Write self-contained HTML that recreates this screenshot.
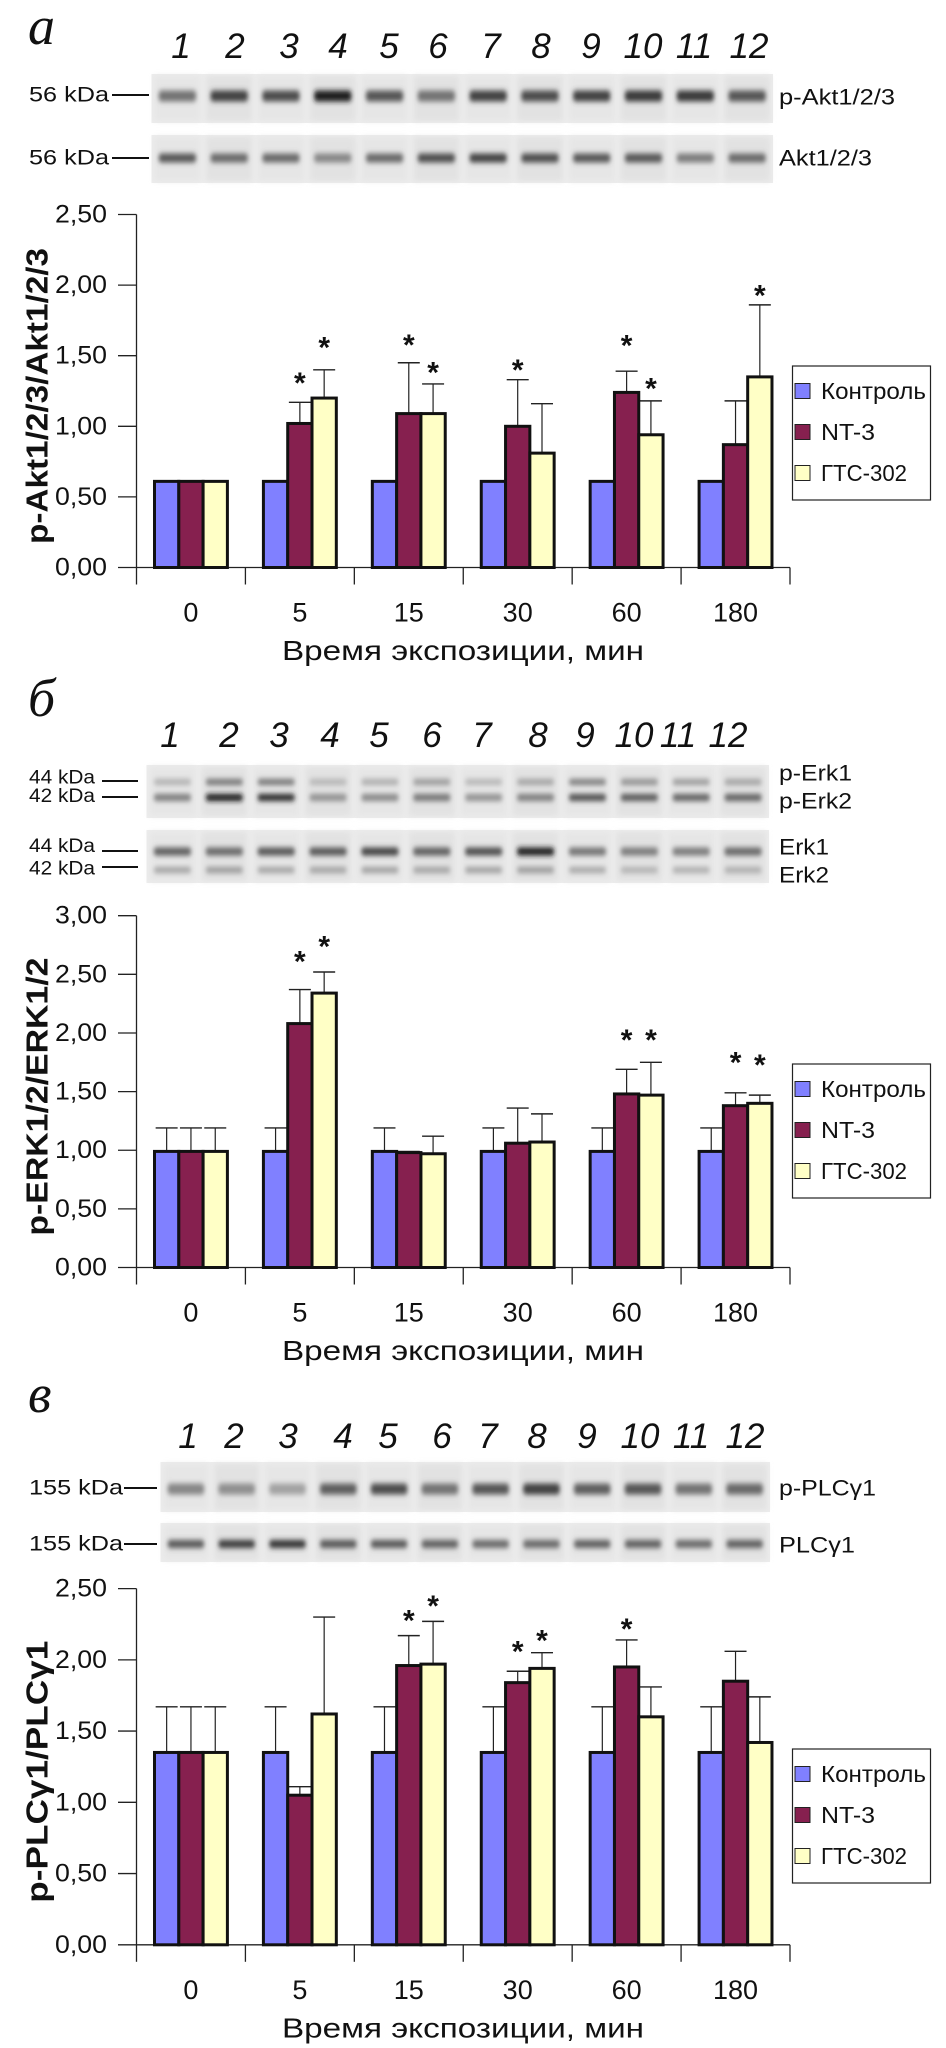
<!DOCTYPE html>
<html><head><meta charset="utf-8">
<style>
html,body{margin:0;padding:0;background:#fff;}
svg{display:block;font-family:"Liberation Sans",Arial,sans-serif;}
</style></head>
<body>
<svg id="fig" width="946" height="2048" viewBox="0 0 946 2048" xmlns="http://www.w3.org/2000/svg">
<defs>
<filter id="blur" x="-20%" y="-100%" width="140%" height="300%"><feGaussianBlur stdDeviation="2.2 2.6"/></filter>
<filter id="blur2" x="-20%" y="-20%" width="140%" height="140%"><feGaussianBlur stdDeviation="3"/></filter>
</defs>
</svg>
<script>
// ---------- chart data ----------
const categories = ["0","5","15","30","60","180"];
const seriesNames = ["Контроль","NT-3","ГТС-302"];
const seriesColors = ["#8080ff","#86204f","#ffffc6"];

// Panel a: p-Akt1/2/3 / Akt1/2/3
const aControl = [0.61,0.61,0.61,0.61,0.61,0.61];
const aNT3     = [0.61,1.02,1.09,1.00,1.24,0.87];
const aGTS     = [0.61,1.20,1.09,0.81,0.94,1.35];
const aControlErr = [null,null,null,null,null,null];
const aNT3Err  = [null,1.17,1.45,1.33,1.39,1.18];
const aGTSErr  = [null,1.40,1.30,1.16,1.18,1.86];
const aNT3Star = [null,1.30,1.57,1.39,1.565,null];
const aGTSStar = [null,1.55,1.375,null,1.26,1.92];
const aTicks = ["0,00","0,50","1,00","1,50","2,00","2,50"];

// Panel b: p-ERK1/2 / ERK1/2
const bControl = [0.99,0.99,0.99,0.99,0.99,0.99];
const bNT3     = [0.99,2.08,0.98,1.06,1.48,1.38];
const bGTS     = [0.99,2.34,0.97,1.07,1.47,1.40];
const bControlErr = [1.19,1.19,1.19,1.19,1.19,1.19];
const bNT3Err  = [1.19,2.37,0.99,1.36,1.69,1.49];
const bGTSErr  = [1.19,2.52,1.12,1.31,1.75,1.47];
const bNT3Star = [null,2.60,null,null,1.93,1.74];
const bGTSStar = [null,2.73,null,null,1.93,1.72];
const bTicks = ["0,00","0,50","1,00","1,50","2,00","2,50","3,00"];

// Panel c: p-PLCγ1 / PLCγ1
const cControl = [1.35,1.35,1.35,1.35,1.35,1.35];
const cNT3     = [1.35,1.05,1.96,1.84,1.95,1.85];
const cGTS     = [1.35,1.62,1.97,1.94,1.60,1.42];
const cControlErr = [1.67,1.67,1.67,1.67,1.67,1.67];
const cNT3Err  = [1.67,1.11,2.17,1.92,2.14,2.06];
const cGTSErr  = [1.67,2.30,2.27,2.05,1.81,1.74];
const cNT3Star = [null,null,2.27,2.05,2.21,null];
const cGTSStar = [null,null,2.37,2.13,null,null];
const cTicks = ["0,00","0,50","1,00","1,50","2,00","2,50"];

// blot band intensities (lanes 1..12)
const aBlotTop = [0.45,0.7,0.65,0.9,0.6,0.45,0.7,0.65,0.7,0.75,0.75,0.6];
const aBlotBot = [0.6,0.5,0.5,0.35,0.5,0.65,0.7,0.65,0.6,0.6,0.4,0.5];
const bBlotE1  = [0.12,0.45,0.45,0.1,0.15,0.25,0.1,0.2,0.4,0.3,0.25,0.2];
const bBlotE2  = [0.4,0.95,0.85,0.3,0.35,0.45,0.3,0.4,0.65,0.6,0.55,0.55];
const bBlotT1  = [0.55,0.5,0.6,0.6,0.7,0.55,0.65,0.9,0.45,0.4,0.4,0.5];
const bBlotT2  = [0.2,0.25,0.2,0.2,0.22,0.2,0.22,0.25,0.18,0.12,0.15,0.15];
const cBlotTop = [0.35,0.3,0.2,0.55,0.65,0.45,0.6,0.7,0.55,0.6,0.45,0.5];
const cBlotBot = [0.6,0.75,0.8,0.6,0.6,0.55,0.5,0.5,0.55,0.55,0.5,0.55];

const NS = "http://www.w3.org/2000/svg";
const svg = document.getElementById("fig");
function mk(tag, attrs, parent){
  const e = document.createElementNS(NS, tag);
  for (const k in attrs) e.setAttribute(k, attrs[k]);
  (parent||svg).appendChild(e);
  return e;
}
function txt(str, attrs, parent){
  const e = mk("text", attrs, parent);
  e.textContent = str;
  return e;
}

// ---------- blots ----------
function blot(g, x0, x1, y0, y1, bands, name){
  const r = mk("rect",{x:x0,y:y0,width:x1-x0,height:y1-y0,fill:"#ececec"},g);
  
  
  const lw = (x1-x0)/12;
  for (let i=0;i<12;i++){
    const shade = mk("rect",{x:x0+i*lw+3,y:y0+2,width:lw-6,height:y1-y0-4,fill:(i%2?"#e2e2e2":"#e6e6e6"),filter:"url(#blur2)"},g);
    
    
  }
  bands.forEach(b=>{
    b.vals.forEach((v,i)=>{
      const cx = x0 + (i+0.5)*lw;
      const gray = Math.round(200 - v*190);
      const e = mk("rect",{x:cx-lw*0.36,y:b.y-b.h/2,width:lw*0.72,height:b.h,rx:3,fill:`rgb(${gray},${gray},${gray})`,filter:"url(#blur)"},g);
      
      
    });
  });
}
function laneNumbers(g, xs, y){
  xs.forEach((x,i)=>{
    const t = txt(String(i+1),{x:x,y:y,"font-size":35,"font-style":"italic","text-anchor":"middle",fill:"#111"},g);
    
    
  });
}
function label(g, s, x, y, size, anchor, name, len){
  const a = {x:x,y:y,"font-size":size,"text-anchor":anchor||"start",fill:"#111","dominant-baseline":"central"};
  if (len){a.textLength=len;a.lengthAdjust="spacingAndGlyphs";}
  const t = txt(s,a,g);
  
  
  return t;
}
function marker(g,x1,x2,y,name){
  const l = mk("line",{x1:x1,x2:x2,y1:y,y2:y,stroke:"#111","stroke-width":2},g);
  
  
}
function panelLetter(s,x,y,name){
  const t = txt(s,{x:x,y:y,"font-size":54,"font-style":"italic","font-family":"Liberation Serif, serif",fill:"#111"});
  
  
}

// ---------- chart ----------
function chart(cfg){
  const g = mk("g",{});
  
  
  const axX = 136.5, axR = 790, y0 = cfg.y0, yTop = cfg.yTop, vmax = cfg.vmax;
  const band = (axR-axX)/categories.length;
  const yScale = v => y0 - (v/vmax)*(y0-yTop);
  const xBand = i => axX + i*band;
  const bw = 24.3, off = 18;
  // y axis
  const ya = mk("line",{x1:axX,x2:axX,y1:yTop,y2:y0,stroke:"#222","stroke-width":1.3},g);
  
  
  cfg.ticks.forEach((lab,i)=>{
    const v = i*0.5, y = yScale(v);
    const tk = mk("line",{x1:118,x2:axX,y1:y,y2:y,stroke:"#222","stroke-width":1.3},g);
    
    
    const t = txt(lab,{x:107,y:y,"font-size":25,"text-anchor":"end","dominant-baseline":"central",fill:"#111",textLength:52,lengthAdjust:"spacingAndGlyphs"},g);
    
    
  });
  // x axis
  const xa = mk("line",{x1:axX,x2:axR,y1:y0,y2:y0,stroke:"#222","stroke-width":1.3},g);
  
  
  for (let i=0;i<=categories.length;i++){
    const tk = mk("line",{x1:xBand(i),x2:xBand(i),y1:y0,y2:y0+17,stroke:"#222","stroke-width":1.3},g);
    
    
  }
  categories.forEach((c,i)=>{
    const t = txt(c,{x:xBand(i)+off+bw*1.5,y:y0+45,"font-size":27,"text-anchor":"middle","dominant-baseline":"central",fill:"#111"},g);
    
    
  });
  const xt = txt("Время экспозиции, мин",{x:463,y:y0+83,"font-size":28,"text-anchor":"middle","dominant-baseline":"central",fill:"#111",textLength:362,lengthAdjust:"spacingAndGlyphs"},g);
  
  
  // y title
  const ytc = (y0+yTop)/2 + 5;
  const yt = txt(cfg.ytitle,{x:0,y:0,"font-size":31,"font-weight":"bold","text-anchor":"middle","dominant-baseline":"central",fill:"#111",transform:`translate(37,${ytc}) rotate(-90)`,textLength:cfg.ytLen,lengthAdjust:"spacingAndGlyphs"},g);
  
  
  // bars
  const series = [cfg.s[0],cfg.s[1],cfg.s[2]];
  const errs = [cfg.e[0],cfg.e[1],cfg.e[2]];
  const stars = [null,cfg.st[0],cfg.st[1]];
  // error bars first (behind)
  series.forEach((vals,si)=>{
    vals.forEach((v,i)=>{
      const ev = errs[si][i];
      if (ev==null) return;
      const cx = xBand(i)+off+bw*si+bw/2;
      const l = mk("line",{x1:cx,x2:cx,y1:yScale(v),y2:yScale(ev),stroke:"#222","stroke-width":1.2},g);
      
      
      const cap = mk("line",{x1:cx-11,x2:cx+11,y1:yScale(ev),y2:yScale(ev),stroke:"#222","stroke-width":1.4},g);
      
      
    });
  });
  series.forEach((vals,si)=>{
    vals.forEach((v,i)=>{
      const x = xBand(i)+off+bw*si;
      const r = mk("rect",{x:x,y:yScale(v),width:bw,height:y0-yScale(v),fill:seriesColors[si],stroke:"#111","stroke-width":3},g);
      
      
    });
  });
  stars.forEach((arr,si)=>{
    if (!arr) return;
    arr.forEach((v,i)=>{
      if (v==null) return;
      const cx = xBand(i)+off+bw*si+bw/2;
      const t = txt("*",{x:cx,y:yScale(v)+9,"font-size":30,"font-weight":"bold","text-anchor":"middle",fill:"#111"},g);
      
      
    });
  });
  // legend
  const L = cfg.leg;
  const lb = mk("rect",{x:792.5,y:L,width:138,height:134,fill:"#fff",stroke:"#222","stroke-width":1.2},g);
  
  
  seriesNames.forEach((n,si)=>{
    const y = L+25+si*41;
    const sw = mk("rect",{x:795,y:y-7.5,width:15,height:15,fill:seriesColors[si],stroke:"#222","stroke-width":1},g);
    
    
    const t = txt(n,{x:821,y:y,"font-size":23,"dominant-baseline":"central",fill:"#111",textLength:[105,54,86][si],lengthAdjust:"spacingAndGlyphs"},g);
    
    
  });
}

// ===== Panel a =====
panelLetter("а",28,44,"panel-letter-a");
const ga = mk("g",{});  
laneNumbers(ga,[181,235,289,338,389,438,491,541,591,643,694,749],58);
blot(ga,151.5,773,74,123,[{y:96,h:11,vals:aBlotTop}],"blot-p-akt");
blot(ga,151.5,773,135,183,[{y:158,h:9,vals:aBlotBot}],"blot-akt");
label(ga,"56 kDa",29,95,21,"start","kda-label",80); marker(ga,112,149,95,"kda-marker");
label(ga,"56 kDa",29,158,21,"start","kda-label",80); marker(ga,112,149,158,"kda-marker");
label(ga,"p-Akt1/2/3",779,97,22,"start","protein-label",116);
label(ga,"Akt1/2/3",779,158,22,"start","protein-label",93);
chart({name:"chart-akt",y0:567.5,yTop:214.5,vmax:2.5,ticks:aTicks,ytitle:"p-Akt1/2/3/Akt1/2/3",ytLen:296,
  s:[aControl,aNT3,aGTS],e:[aControlErr,aNT3Err,aGTSErr],st:[aNT3Star,aGTSStar],leg:366});

// ===== Panel b =====
panelLetter("б",28,716,"panel-letter-b");
const gb = mk("g",{});  
laneNumbers(gb,[170,229,279,330,379,432,482,538,585,634,678,728],747);
blot(gb,146.5,769,765,818,[{y:782,h:6,vals:bBlotE1},{y:797.5,h:7,vals:bBlotE2}],"blot-p-erk");
blot(gb,146.5,769,830,883,[{y:851.5,h:8,vals:bBlotT1},{y:870,h:6,vals:bBlotT2}],"blot-erk");
label(gb,"44 kDa",29,778,19,"start","kda-label",66); marker(gb,102,138,781,"kda-marker");
label(gb,"42 kDa",29,796.5,19,"start","kda-label",66); marker(gb,102,138,797,"kda-marker");
label(gb,"44 kDa",29,846.5,19,"start","kda-label",66); marker(gb,102,138,851,"kda-marker");
label(gb,"42 kDa",29,869,19,"start","kda-label",66); marker(gb,102,138,867,"kda-marker");
label(gb,"p-Erk1",779,773,22,"start","protein-label",73);
label(gb,"p-Erk2",779,801,22,"start","protein-label",73);
label(gb,"Erk1",779,847,22,"start","protein-label",50);
label(gb,"Erk2",779,875,22,"start","protein-label",50);
chart({name:"chart-erk",y0:1267.5,yTop:915.7,vmax:3.0,ticks:bTicks,ytitle:"p-ERK1/2/ERK1/2",ytLen:278,
  s:[bControl,bNT3,bGTS],e:[bControlErr,bNT3Err,bGTSErr],st:[bNT3Star,bGTSStar],leg:1064});

// ===== Panel c =====
panelLetter("в",28,1412,"panel-letter-c");
const gc = mk("g",{});  
laneNumbers(gc,[188,234,288,343,388,442,488,537,587,640,691,745],1448);
blot(gc,160.5,770,1462,1512,[{y:1489,h:11,vals:cBlotTop}],"blot-p-plc");
blot(gc,160.5,770,1523,1562,[{y:1544,h:8,vals:cBlotBot}],"blot-plc");
label(gc,"155 kDa",29,1488,21,"start","kda-label",94); marker(gc,124,157,1488,"kda-marker");
label(gc,"155 kDa",29,1544,21,"start","kda-label",94); marker(gc,124,157,1544,"kda-marker");
label(gc,"p-PLCγ1",779,1488,22,"start","protein-label",97);
label(gc,"PLCγ1",779,1545,22,"start","protein-label",76);
chart({name:"chart-plc",y0:1944.8,yTop:1588.6,vmax:2.5,ticks:cTicks,ytitle:"p-PLCγ1/PLCγ1",ytLen:262,
  s:[cControl,cNT3,cGTS],e:[cControlErr,cNT3Err,cGTSErr],st:[cNT3Star,cGTSStar],leg:1749});
</script>
</body></html>
